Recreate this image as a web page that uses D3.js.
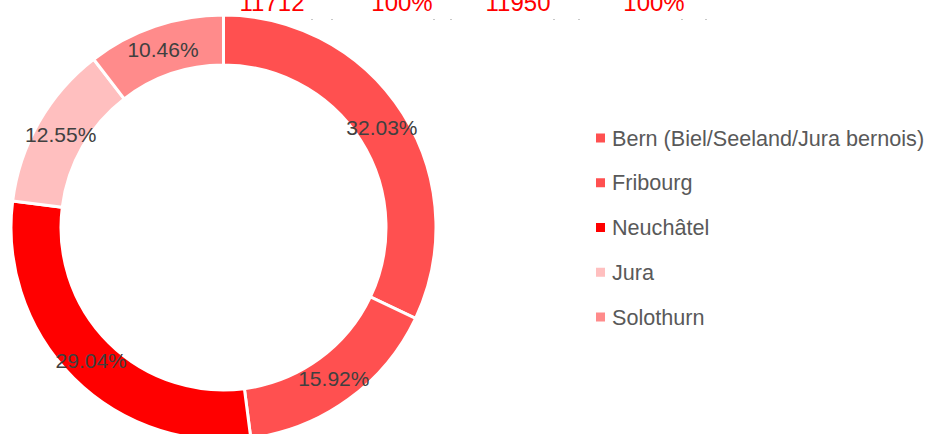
<!DOCTYPE html>
<html>
<head>
<meta charset="utf-8">
<script src="https://cdn.jsdelivr.net/npm/d3@7"></script>
<style>
  body { margin: 0; background: #fff; }
  svg { display: block; }
</style>
</head>
<body>
<svg></svg>
<script>
var w = 930,
    h = 434;

// chart data
var regions = ["Bern (Biel/Seeland/Jura bernois)", "Fribourg", "Neuchâtel", "Jura", "Solothurn"];
var shares = [32.03, 15.92, 29.04, 12.55, 10.46];
var colors = ["#ff5050", "#ff5050", "#ff0000", "#ffbfbf", "#ff8b8b"];
// leftover cells of the sheet above the chart
var topCells = ["11712", "100%", "11950", "100%"];

var svg = d3.select("svg")
    .attr("width", w)
    .attr("height", h);

var cx = 223.5,
    cy = 227.5,
    rOut = 212.5,
    rIn = 162.5;

var data = regions.map(function (d, i) {
    return { name: d, value: shares[i], color: colors[i] };
});

var pie = d3.pie()
    .sort(null)
    .value(function (d) { return d.value; });

var arc = d3.arc()
    .innerRadius(rIn)
    .outerRadius(rOut);

var g = svg.append("g")
    .attr("transform", "translate(" + cx + "," + cy + ")");

g.selectAll("path")
    .data(pie(data))
    .join("path")
    .attr("d", arc)
    .attr("fill", function (d) { return d.data.color; })
    .attr("stroke", "#fff")
    .attr("stroke-width", 3);

g.selectAll("text")
    .data(pie(data))
    .join("text")
    .attr("transform", function (d) {
        var c = arc.centroid(d);
        return "translate(" + c[0] + "," + c[1] + ")";
    })
    .attr("text-anchor", "middle")
    .attr("dy", "0.35em")
    .style("font-family", "Liberation Sans, Arial, sans-serif")
    .style("font-size", "21px")
    .attr("fill", "#404040")
    .text(function (d) { return d.data.value.toFixed(2) + "%"; });

// legend
var ly = d3.scalePoint()
    .domain(regions)
    .range([138, 317]);

var leg = svg.append("g")
    .selectAll("g")
    .data(data)
    .join("g")
    .attr("transform", function (d) { return "translate(596," + ly(d.name) + ")"; });

leg.append("rect")
    .attr("x", 0)
    .attr("y", -4.5)
    .attr("width", 9)
    .attr("height", 9)
    .attr("fill", function (d) { return d.color; });

leg.append("text")
    .attr("x", 16)
    .attr("dy", "0.35em")
    .style("font-family", "Liberation Sans, Arial, sans-serif")
    .style("font-size", "21.6px")
    .attr("fill", "#595959")
    .text(function (d) { return d.name; });

// sheet cells peeking above the chart
var tx = d3.scaleOrdinal()
    .domain(d3.range(topCells.length))
    .range([272, 402, 518, 654]);

svg.append("g")
    .selectAll("text")
    .data(topCells)
    .join("text")
    .attr("x", function (d, i) { return tx(i); })
    .attr("y", 11)
    .attr("text-anchor", "middle")
    .style("font-family", "Liberation Sans, Arial, sans-serif")
    .style("font-size", "24px")
    .attr("fill", "#ff0000")
    .text(function (d) { return d; });

// faint grid dots
var dots = [311, 331, 433, 450, 553, 578, 681, 705];
svg.append("g")
    .selectAll("rect")
    .data(dots)
    .join("rect")
    .attr("x", function (d) { return d; })
    .attr("y", 19)
    .attr("width", 2)
    .attr("height", 1)
    .attr("fill", "#c8c8c8");
</script>
</body>
</html>
